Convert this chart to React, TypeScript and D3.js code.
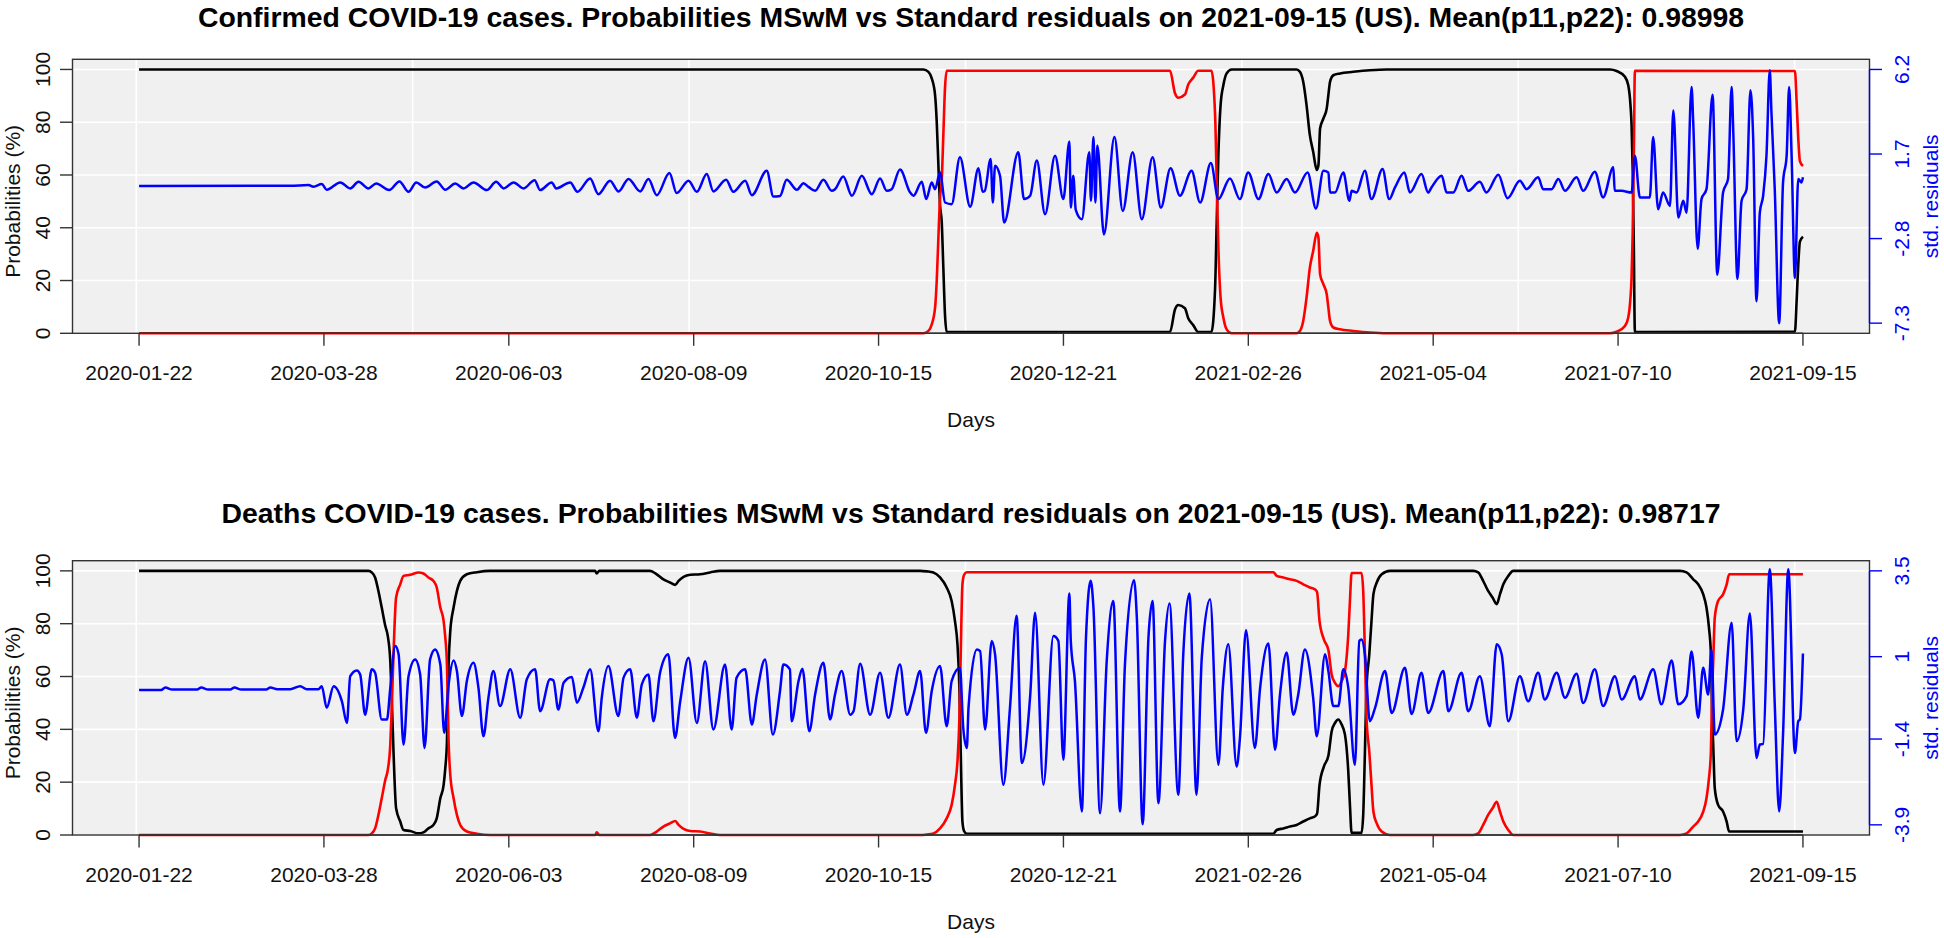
import React from "react";
import * as d3 from "d3";

// ---------- DATA ----------
const xTickLabels = [
  "2020-01-22", "2020-03-28", "2020-06-03", "2020-08-09", "2020-10-15",
  "2020-12-21", "2021-02-26", "2021-05-04", "2021-07-10", "2021-09-15",
];
const lastDay = 602; // day index of 2021-09-15 (603 daily observations)
const gridDays = [-1, 99, 199, 299, 399, 499, 599];
const probTicks = [0, 20, 40, 60, 80, 100];

const titleConfirmed =
  "Confirmed COVID-19 cases. Probabilities MSwM vs Standard residuals on 2021-09-15 (US). Mean(p11,p22): 0.98998";
const titleDeaths =
  "Deaths COVID-19 cases. Probabilities MSwM vs Standard residuals on 2021-09-15 (US). Mean(p11,p22): 0.98717";

const confirmedResidTicks = [-7.3, -2.8, 1.7, 6.2];
const deathsResidTicks = [-3.9, -1.4, 1, 3.5];

// [day index, probability of regime 1 (%)] ; regime 2 = 100 - regime 1
const confirmedRegime1 = [
  [0, 100], [283.8, 100], [285.6, 99.1], [286.8, 96.6], [288.0, 90.3], [288.6, 80.2],
  [289.2, 63.8], [289.8, 48.6], [290.4, 42.3], [291.0, 24.6], [291.6, 6.9], [292.2, 0.5],
  [373.0, 0.5], [374.8, 9.0], [376.0, 10.7], [378.4, 9.5], [379.6, 5.7], [381.4, 3.1],
  [383.2, 0.5], [388.0, 0.5], [389.3, 16.8], [389.9, 42.3], [390.5, 67.6], [391.3, 86.5],
  [392.3, 94.0], [393.5, 98.5], [395.3, 100], [418.8, 100], [420.0, 99.1], [421.2, 95.3],
  [422.4, 86.5], [423.6, 75.1], [424.8, 68.8], [426.1, 61.9], [426.7, 63.7], [427.3, 77.6],
  [428.5, 81.4], [429.7, 85.2], [430.3, 90.3], [430.9, 95.3], [432.1, 97.8], [434.5, 98.5],
  [439.3, 99.1], [445.3, 99.7], [451.4, 100], [532.2, 100], [534.6, 99.4], [537.6, 97.2],
  [538.8, 94.0], [539.6, 86.5], [540.0, 78.9], [540.4, 62.0], [540.8, 34.0], [541.2, 0.5],
  [599.1, 0.6], [599.7, 12.0], [600.3, 25.9], [600.9, 34.7], [602, 36.6],
];

// [day index, standardized residual]
const confirmedResid = [
  [0, 0.0], [54.7, 0.01], [61.3, 0.05], [63.1, -0.04], [66.1, 0.1], [67.9, -0.2], [72.8, 0.19],
  [76.4, -0.13], [79.4, 0.22], [83.0, -0.13], [85.8, 0.13], [90.5, -0.22], [94.2, 0.24],
  [97.5, -0.31], [100.3, 0.19], [103.5, -0.08], [107.7, 0.24], [110.8, -0.2], [114.4, 0.13],
  [117.4, -0.13], [121.0, 0.19], [125.8, -0.22], [129.2, 0.22], [131.9, -0.13], [135.5, 0.19],
  [139.1, -0.13], [143.1, 0.31], [145.1, -0.22], [149.3, 0.19], [150.9, -0.13], [156.0, 0.19],
  [158.6, -0.31], [163.2, 0.4], [166.2, -0.44], [170.4, 0.28], [173.5, -0.29], [177.1, 0.37],
  [181.3, -0.29], [184.3, 0.37], [187.3, -0.49], [191.9, 0.69], [194.5, -0.38], [198.8, 0.28],
  [201.8, -0.31], [205.4, 0.63], [207.8, -0.29], [212.4, 0.33], [215.0, -0.31], [219.3, 0.28],
  [221.7, -0.49], [227.1, 0.81], [229.5, -0.56], [231.9, -0.53], [234.3, 0.33], [238.0, -0.2],
  [240.4, 0.15], [242.2, -0.05], [244.6, -0.26], [247.6, 0.33], [250.6, -0.26], [251.8, -0.17],
  [254.8, 0.51], [257.9, -0.52], [261.5, 0.54], [265.1, -0.44], [268.1, 0.4], [270.5, -0.26],
  [272.3, -0.17], [275.3, 0.87], [279.0, -0.35], [280.2, -0.52], [283.2, 0.22], [284.8, -0.7],
  [286.8, 0.19], [288.0, -0.17], [289.8, 0.72], [291.6, -0.88], [294.0, -0.97], [297.0, 1.53],
  [300.7, -1.1], [303.7, 0.94], [305.2, -0.31], [306.0, -0.26], [308.1, 1.44], [308.9, -0.88],
  [309.7, 1.08], [311.5, 0.54], [313.0, -1.95], [318.1, 1.79], [320.2, -0.7], [322.4, -0.52],
  [324.8, 1.35], [327.8, -1.51], [331.4, 1.61], [334.4, -0.7], [336.6, 2.36], [337.1, -1.15],
  [338.0, 0.54], [338.9, -1.27], [341.1, -1.77], [343.8, 1.79], [344.4, -0.79], [345.3, 2.6],
  [346.0, -0.88], [346.7, 2.15], [349.1, -2.58], [352.9, 2.6], [355.9, -1.33], [359.5, 1.79],
  [362.8, -1.77], [366.7, 1.53], [369.7, -1.15], [373.2, 0.94], [376.6, -0.52], [380.8, 0.81],
  [383.9, -0.88], [387.8, 1.22], [390.5, -0.7], [394.7, 0.4], [398.3, -0.7], [401.3, 0.72],
  [405.0, -0.7], [408.6, 0.63], [411.6, -0.35], [415.2, 0.37], [418.2, -0.35], [422.8, 0.72],
  [425.8, -1.2], [428.5, 0.81], [430.3, 0.72], [430.9, -0.35], [432.7, -0.35], [435.7, 0.72],
  [437.9, -0.79], [438.7, -0.26], [440.5, -0.35], [443.5, 0.81], [445.9, -0.7], [449.9, 0.9],
  [452.3, -0.7], [454.4, -0.08], [457.8, 0.72], [459.8, -0.35], [464.0, 0.63], [466.4, -0.35],
  [467.6, -0.08], [471.3, 0.54], [473.1, -0.35], [475.5, -0.35], [478.5, 0.54], [480.9, -0.26],
  [485.1, 0.22], [487.5, -0.35], [491.8, 0.6], [495.1, -0.65], [499.6, 0.28], [502.0, -0.17],
  [506.2, 0.46], [508.0, -0.17], [511.1, -0.17], [513.5, 0.37], [515.9, -0.26], [520.1, 0.46],
  [522.5, -0.26], [526.7, 0.76], [529.7, -0.61], [533.4, 0.99], [533.9, -0.26], [536.4, -0.26],
  [540.0, -0.35], [541.2, 1.61], [543.0, -0.61], [546.6, -0.61], [547.8, 2.6], [549.6, -1.24],
  [551.4, -0.35], [553.9, -1.06], [555.1, 4.02], [556.9, -1.68], [558.7, -0.79], [559.9, -1.42],
  [561.7, 5.27], [562.3, 3.4], [563.9, -3.34], [565.3, -0.7], [567.1, -0.17], [569.3, 4.86],
  [571.0, -4.72], [573.1, -0.35], [574.9, 0.37], [576.2, 5.27], [576.8, 2.86], [578.3, -4.95],
  [579.8, -0.79], [581.6, -0.17], [583.0, 5.09], [584.0, 2.51], [585.2, -6.14], [586.4, -1.42],
  [587.6, -0.52], [588.8, 1.61], [590.0, 6.16], [590.6, 3.93], [591.8, -0.17], [593.4, -7.3],
  [594.8, 0.19], [596.1, 1.61], [597.0, 5.27], [597.9, 1.61], [599.1, -4.9], [600.3, 0.37],
  [601.5, 0.19], [602, 0.46],
];

const deathsRegime1 = [
  [0, 100], [83.0, 100], [84.2, 99.4], [85.4, 97.5], [86.6, 92.4], [87.8, 86.1], [89.1, 79.1],
  [90.0, 75.3], [90.9, 65.8], [91.5, 49.4], [92.1, 30.4], [93.0, 10.1], [94.5, 5.1], [95.7, 1.9],
  [98.1, 1.5], [101.1, 0.6], [102.9, 1.0], [104.7, 2.5], [106.5, 3.8], [107.7, 6.3], [109.0, 13.9],
  [110.2, 19.0], [110.8, 25.3], [111.4, 35.4], [112.0, 64.6], [112.6, 77.2], [113.8, 86.1],
  [115.0, 92.4], [116.2, 96.2], [118.6, 98.7], [122.2, 99.5], [127.0, 100], [165.0, 100],
  [165.6, 99.0], [166.5, 100], [184.9, 100], [187.3, 98.7], [189.7, 96.8], [192.1, 95.6],
  [194.0, 94.7], [195.2, 96.2], [197.0, 97.7], [199.4, 98.5], [203.0, 98.7], [206.6, 99.4],
  [210.2, 100], [282.6, 100], [285.0, 99.8], [287.4, 99.4], [289.8, 97.5], [292.2, 93.7],
  [294.0, 88.6], [295.2, 81.0], [296.1, 72.2], [296.8, 55.7], [297.3, 30.4], [297.9, 5.1],
  [298.5, 1.5], [299.5, 0.5], [410.4, 0.5], [411.6, 1.9], [414.0, 2.5], [416.4, 3.2],
  [418.8, 3.8], [421.2, 5.1], [423.6, 6.3], [425.4, 7.0], [426.2, 8.0], [427.1, 19.0],
  [428.7, 26.0], [430.3, 30.0], [431.5, 39.3], [432.7, 42.4], [433.9, 43.7], [435.1, 41.8],
  [436.3, 38.0], [437.5, 24.1], [438.1, 11.4], [438.7, 0.8], [442.3, 0.8], [442.9, 7.6],
  [443.5, 30.4], [444.1, 55.7], [445.1, 68.4], [445.9, 81.0], [446.6, 91.2], [447.8, 95.6],
  [449.6, 98.7], [452.6, 100], [482.7, 100], [484.5, 99.4], [486.3, 96.2], [488.1, 92.4],
  [489.7, 89.9], [491.2, 87.4], [492.4, 91.2], [493.6, 94.9], [495.4, 98.1], [497.2, 100],
  [557.5, 100], [559.9, 99.4], [562.3, 96.8], [564.1, 94.9], [565.9, 91.2], [567.1, 86.1],
  [568.0, 78.5], [568.7, 68.4], [569.2, 43.0], [569.5, 35.4], [570.1, 17.7], [571.3, 11.4],
  [573.1, 8.9], [574.4, 5.1], [575.3, 1.3], [602, 1.3],
];

const deathsResid = [
  [0, 0.03], [8, 0.03], [9.5, 0.1], [12, 0.04], [21, 0.04], [22.5, 0.1], [25, 0.04], [33, 0.04],
  [34.5, 0.1], [37, 0.04], [46, 0.04], [47.5, 0.1], [50, 0.05], [54.7, 0.05], [58.3, 0.14],
  [60.7, 0.05], [64.9, 0.05], [66.1, 0.14], [67.9, -0.49], [70.4, 0.14], [73.4, -0.3],
  [75.2, -0.93], [76.4, 0.43], [78.8, 0.6], [80.0, 0.48], [81.8, -0.69], [84.2, 0.63],
  [85.4, 0.53], [87.8, -0.83], [89.7, -0.83], [90.9, 0.09], [92.7, 1.31], [93.9, 1.07],
  [95.7, -1.56], [97.5, 0.43], [99.9, 0.92], [101.7, 0.48], [103.3, -1.66], [105.3, 0.92],
  [107.1, 1.21], [109.0, 0.77], [110.4, -1.22], [112.0, 0.19], [113.8, 0.89], [115.0, 0.58],
  [116.8, -0.73], [118.6, 0.29], [121.0, 0.82], [122.8, 0.09], [124.6, -1.32], [126.4, -0.2],
  [128.2, 0.58], [130.6, -0.44], [134.3, 0.63], [137.9, -0.78], [140.3, 0.34], [143.3, 0.63],
  [145.1, -0.59], [148.7, 0.34], [149.9, 0.31], [151.7, -0.54], [153.6, 0.24], [156.6, 0.41],
  [158.4, -0.34], [160.8, 0.11], [163.2, 0.63], [166.2, -1.17], [167.4, -0.2], [169.8, 0.73],
  [173.4, -0.73], [175.3, 0.39], [177.7, 0.63], [180.1, -0.78], [181.9, 0.19], [184.3, 0.48],
  [186.1, -0.88], [188.5, 0.53], [191.5, 1.07], [193.9, -1.37], [195.8, -0.3], [198.8, 0.97],
  [201.8, -0.93], [204.8, 0.87], [207.8, -1.12], [212.0, 0.77], [214.4, -1.12], [216.2, 0.39],
  [219.3, 0.63], [221.7, -0.98], [223.5, -0.1], [226.5, 0.92], [229.3, -1.27], [231.9, 0.0],
  [233.1, 0.77], [235.5, 0.63], [236.1, -0.88], [238.6, 0.29], [240.0, 0.65], [242.5, -1.17],
  [244.6, -0.1], [247.6, 0.82], [250.0, -0.83], [251.8, -0.1], [254.2, 0.58], [257.3, -0.69],
  [258.5, -0.59], [260.9, 0.79], [264.5, -0.69], [268.1, 0.53], [271.1, -0.78], [275.3, 0.77],
  [277.8, -0.69], [280.2, -0.1], [282.6, 0.58], [284.7, -1.22], [286.8, 0.0], [289.8, 0.73],
  [292.2, -1.03], [294.0, 0.29], [297.0, 0.68], [298.2, -1.08], [299.5, -1.66], [300.1, -0.49],
  [303.1, 1.21], [304.3, 1.16], [306.1, -1.12], [308.5, 1.46], [309.7, 1.07], [312.7, -2.73],
  [315.1, -0.49], [317.5, 2.19], [319.4, -2.1], [322.4, -0.15], [324.2, 2.28], [327.2, -2.73],
  [330.8, 1.6], [332.6, 1.46], [334.4, -2.0], [336.6, 2.84], [337.1, 1.46], [338.6, 0.29],
  [341.1, -3.51], [342.6, 1.55], [344.3, 3.21], [345.3, 2.43], [347.7, -3.56], [350.1, 0.87],
  [352.5, 2.62], [354.9, -3.51], [356.7, 0.77], [360.0, 3.23], [361.0, 2.14], [363.1, -3.88],
  [365.2, 1.55], [366.7, 2.62], [368.8, -3.27], [371.2, 1.46], [372.8, 2.55], [376.0, -3.02],
  [377.8, 1.07], [380.0, 2.84], [382.6, -3.02], [384.5, 0.97], [387.5, 2.67], [390.5, -2.15],
  [392.1, 0.09], [394.1, 1.36], [397.1, -2.2], [398.3, -1.37], [400.5, 1.77], [403.7, -1.66],
  [405.6, 0.09], [408.6, 1.38], [411.0, -1.71], [412.8, -0.1], [415.2, 1.12], [417.6, -0.69],
  [419.4, -0.1], [421.8, 1.21], [424.8, -0.2], [426.1, -1.32], [429.1, 1.07], [430.3, 0.58],
  [432.1, -0.44], [433.9, -0.44], [435.7, 0.63], [437.5, 0.09], [439.9, -2.15], [441.5, 1.46],
  [442.3, 1.5], [443.5, 1.07], [445.3, -0.88], [447.2, -0.49], [450.8, 0.58], [453.2, -0.64],
  [458.0, 0.68], [460.4, -0.67], [464.0, 0.53], [466.4, -0.64], [471.9, 0.58], [473.7, -0.59],
  [478.5, 0.53], [480.9, -0.59], [485.1, 0.43], [488.7, -1.03], [491.2, 1.36], [493.0, 1.07],
  [495.4, -0.88], [499.6, 0.43], [502.6, -0.3], [506.2, 0.53], [508.6, -0.25], [512.9, 0.53],
  [515.9, -0.2], [520.1, 0.5], [522.5, -0.35], [526.7, 0.63], [529.7, -0.44], [534.0, 0.43],
  [536.4, -0.25], [541.2, 0.43], [543.0, -0.25], [547.8, 0.63], [550.8, -0.39], [554.5, 0.89],
  [556.9, -0.39], [559.9, -0.15], [561.7, 1.15], [564.1, -0.78], [565.9, 0.68], [567.7, -0.1],
  [568.9, 1.21], [570.1, -1.27], [573.1, -0.54], [576.2, 1.99], [578.0, -1.46], [580.4, -0.54],
  [582.8, 2.26], [585.2, -1.95], [586.4, -1.56], [587.6, -1.54], [590.0, 3.55], [591.8, -0.39],
  [593.4, -3.51], [594.8, -1.27], [596.7, 3.55], [599.1, -1.81], [600.3, -0.88], [600.9, -0.83],
  [602, 1.09],
];

// ---------- LAYOUT ----------
const W = 1944;
const H = 938;
const plotLeft = 72.5;
const plotRight = 1869.5;
const FONT = "'Liberation Sans', Arial, Helvetica, sans-serif";

const panels = [
  { boxTop: 59.3, boxBottom: 333.3, titleY: 27, title: titleConfirmed,
    regime1: confirmedRegime1, resid: confirmedResid, residTicks: confirmedResidTicks },
  { boxTop: 560.7, boxBottom: 835, titleY: 523, title: titleDeaths,
    regime1: deathsRegime1, resid: deathsResid, residTicks: deathsResidTicks },
];

function Panel({ cfg }) {
  const x = d3.scaleLinear()
    .domain([-0.04 * lastDay, 1.04 * lastDay])
    .range([plotLeft, plotRight]);
  const ext = ((cfg.boxBottom - cfg.boxTop) * 0.04) / 1.08;
  const yP = d3.scaleLinear().domain([0, 100]).range([cfg.boxBottom, cfg.boxTop + ext]);
  const rT = cfg.residTicks;
  const yR = d3.scaleLinear()
    .domain([rT[0], rT[rT.length - 1]])
    .range([cfg.boxBottom - ext, cfg.boxTop + ext]);

  const lineP = d3.line().curve(d3.curveMonotoneX).x((d) => x(d[0])).y((d) => yP(d[1]));
  const lineR = d3.line().curve(d3.curveMonotoneX).x((d) => x(d[0])).y((d) => yR(d[1]));
  const regime2 = cfg.regime1.map((d) => [d[0], 100 - d[1]]);

  const xTicks = d3.range(xTickLabels.length).map((k) => (k * lastDay) / (xTickLabels.length - 1));
  const midX = (plotLeft + plotRight) / 2;
  const probMid = (yP(0) + yP(100)) / 2;
  const boxMid = (cfg.boxTop + cfg.boxBottom) / 2;
  const tickLen = 12.5;
  const axisCol = "#333";

  return (
    <g>
      <text x={midX} y={cfg.titleY} textAnchor="middle" fontFamily={FONT}
        fontWeight="bold" fontSize={28.4} fill="#000">{cfg.title}</text>

      <rect x={plotLeft} y={cfg.boxTop} width={plotRight - plotLeft}
        height={cfg.boxBottom - cfg.boxTop} fill="#f0f0f0" />
      {gridDays.map((g) => (
        <line key={"gv" + g} x1={x(g)} x2={x(g)} y1={cfg.boxTop} y2={cfg.boxBottom}
          stroke="#fff" strokeWidth={1.6} />
      ))}
      {probTicks.map((p) => (
        <line key={"gh" + p} x1={plotLeft} x2={plotRight} y1={yP(p)} y2={yP(p)}
          stroke="#fff" strokeWidth={1.6} />
      ))}

      <path d={lineP(cfg.regime1)} fill="none" stroke="#000" strokeWidth={2.6} strokeLinejoin="round" />
      <path d={lineP(regime2)} fill="none" stroke="#ff0000" strokeWidth={2.6} strokeLinejoin="round" />
      <path d={lineR(cfg.resid)} fill="none" stroke="#0000ff" strokeWidth={2.5} strokeLinejoin="round" />

      <rect x={plotLeft} y={cfg.boxTop} width={plotRight - plotLeft}
        height={cfg.boxBottom - cfg.boxTop} fill="none" stroke={axisCol} strokeWidth={1.4} />

      {/* bottom axis */}
      <line x1={x(xTicks[0])} x2={x(xTicks[xTicks.length - 1])} y1={cfg.boxBottom} y2={cfg.boxBottom}
        stroke={axisCol} strokeWidth={1.4} />
      {xTicks.map((t, k) => (
        <g key={"xt" + k}>
          <line x1={x(t)} x2={x(t)} y1={cfg.boxBottom} y2={cfg.boxBottom + tickLen}
            stroke={axisCol} strokeWidth={1.4} />
          <text x={x(t)} y={cfg.boxBottom + 47} textAnchor="middle" fontFamily={FONT}
            fontSize={21} fill="#111">{xTickLabels[k]}</text>
        </g>
      ))}
      <text x={midX} y={cfg.boxBottom + 94} textAnchor="middle" fontFamily={FONT}
        fontSize={21} fill="#111">Days</text>

      {/* left axis */}
      {probTicks.map((p) => (
        <g key={"yt" + p}>
          <line x1={plotLeft - tickLen} x2={plotLeft} y1={yP(p)} y2={yP(p)}
            stroke={axisCol} strokeWidth={1.4} />
          <text transform={`translate(50,${yP(p)}) rotate(-90)`} textAnchor="middle"
            fontFamily={FONT} fontSize={21} fill="#111">{p}</text>
        </g>
      ))}
      <text transform={`translate(20,${probMid}) rotate(-90)`} textAnchor="middle"
        fontFamily={FONT} fontSize={21} fill="#111">Probabilities (%)</text>

      {/* right axis */}
      <line x1={plotRight} x2={plotRight} y1={yR(rT[0])} y2={yR(rT[rT.length - 1])}
        stroke="#0000ff" strokeWidth={1.4} />
      {rT.map((v) => (
        <g key={"rt" + v}>
          <line x1={plotRight} x2={plotRight + tickLen} y1={yR(v)} y2={yR(v)}
            stroke="#0000ff" strokeWidth={1.4} />
          <text transform={`translate(1909,${yR(v)}) rotate(-90)`} textAnchor="middle"
            fontFamily={FONT} fontSize={21} fill="#0000ff">{String(v)}</text>
        </g>
      ))}
      <text transform={`translate(1938,${boxMid}) rotate(-90)`} textAnchor="middle"
        fontFamily={FONT} fontSize={21} fill="#0000ff">std. residuals</text>
    </g>
  );
}

export default function App() {
  return (
    <svg width={W} height={H} viewBox={`0 0 ${W} ${H}`}
      style={{ position: "absolute", left: 0, top: 0, display: "block", background: "#fff" }}>
      <rect x={0} y={0} width={W} height={H} fill="#fff" />
      {panels.map((cfg, i) => (
        <Panel key={i} cfg={cfg} />
      ))}
    </svg>
  );
}
